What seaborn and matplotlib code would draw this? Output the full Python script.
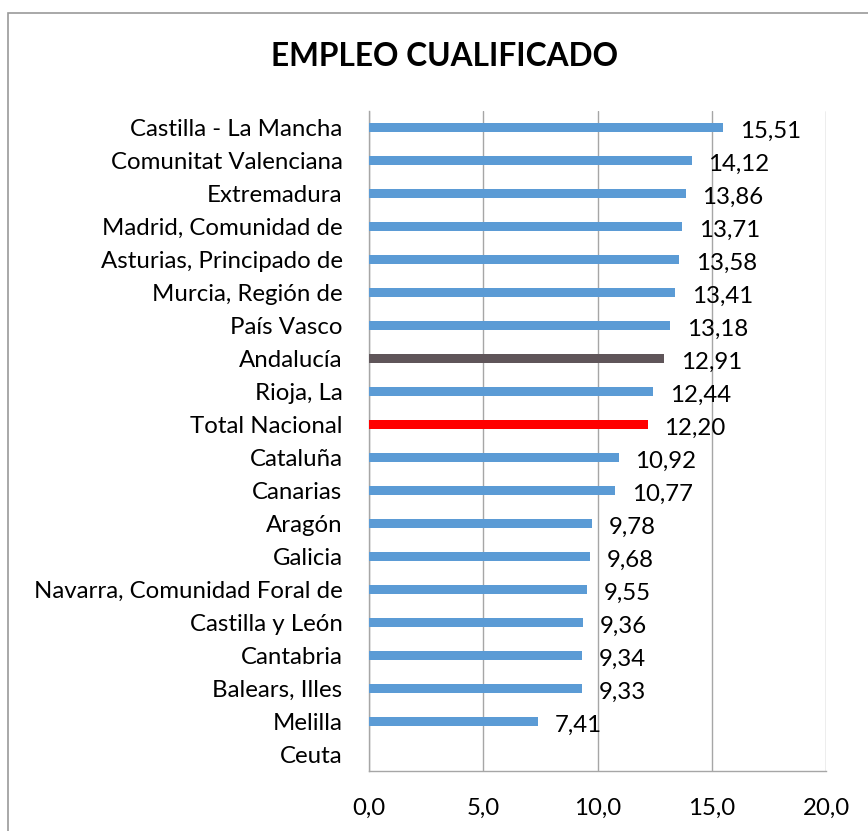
import matplotlib
matplotlib.use("Agg")
import matplotlib.pyplot as plt
import seaborn as sns
import pandas as pd
from matplotlib.patches import Rectangle

regions = [
    "Castilla - La Mancha", "Comunitat Valenciana", "Extremadura",
    "Madrid, Comunidad de", "Asturias, Principado de", "Murcia, Región de",
    "País Vasco", "Andalucía", "Rioja, La", "Total Nacional", "Cataluña",
    "Canarias", "Aragón", "Galicia", "Navarra, Comunidad Foral de",
    "Castilla y León", "Cantabria", "Balears, Illes", "Melilla", "Ceuta",
]
values = [15.51, 14.12, 13.86, 13.71, 13.58, 13.41, 13.18, 12.91, 12.44, 12.20,
          10.92, 10.77, 9.78, 9.68, 9.55, 9.36, 9.34, 9.33, 7.41, 0.0]
x_ticks = [0, 5, 10, 15, 20]

blue = "#5B9BD5"
highlight = {"Andalucía": "#5F5559", "Total Nacional": "#FF0000"}
palette = [highlight.get(r, blue) for r in regions]

df = pd.DataFrame({"region": regions, "value": values})

sns.set_style("white")
plt.rcParams["font.family"] = ["Lato", "DejaVu Sans"]
plt.rcParams["text.color"] = "black"

fig = plt.figure(figsize=(8.68, 8.31), dpi=100)
ax = fig.add_axes([369 / 868, 1 - 771 / 831, 457 / 868, 660 / 831])

sns.barplot(data=df, x="value", y="region", hue="region", palette=palette,
            saturation=1, legend=False, width=0.3, linewidth=0, ax=ax, zorder=3)

ax.set_xlim(0, 20)
ax.set_xticks(x_ticks)
ax.set_xticklabels([f"{t:.1f}".replace(".", ",") for t in x_ticks])
ax.grid(axis="x", color="#A6A6A6", linewidth=1.0, zorder=0)
ax.set_xlabel("")
ax.set_ylabel("")
ax.tick_params(axis="both", length=0, labelsize=17.3, colors="black")
ax.tick_params(axis="y", pad=19)
ax.tick_params(axis="x", pad=19)

for side in ["top", "right"]:
    ax.spines[side].set_visible(False)
for side in ["left", "bottom"]:
    ax.spines[side].set_color("#A6A6A6")
    ax.spines[side].set_linewidth(1.0)

# data labels (Ceuta has no value, so no label)
for i, v in enumerate(values):
    if v > 0:
        ax.annotate(f"{v:.2f}".replace(".", ","), (v, i), xytext=(12, -3),
                    textcoords="offset points", ha="left", va="center",
                    fontsize=17.3, color="black")

fig.text(445 / 868, 1 - 57 / 831, "EMPLEO CUALIFICADO", ha="center", va="center",
         fontsize=22.8, fontweight="bold", color="black")

# chart border
fig.patches.append(Rectangle((8 / 868, -0.01), 1.2, 1 - 13 / 831 + 0.01,
                             transform=fig.transFigure, fill=False,
                             edgecolor="#9A9A9A", linewidth=1.2))

fig.savefig("out.png", dpi=100)
